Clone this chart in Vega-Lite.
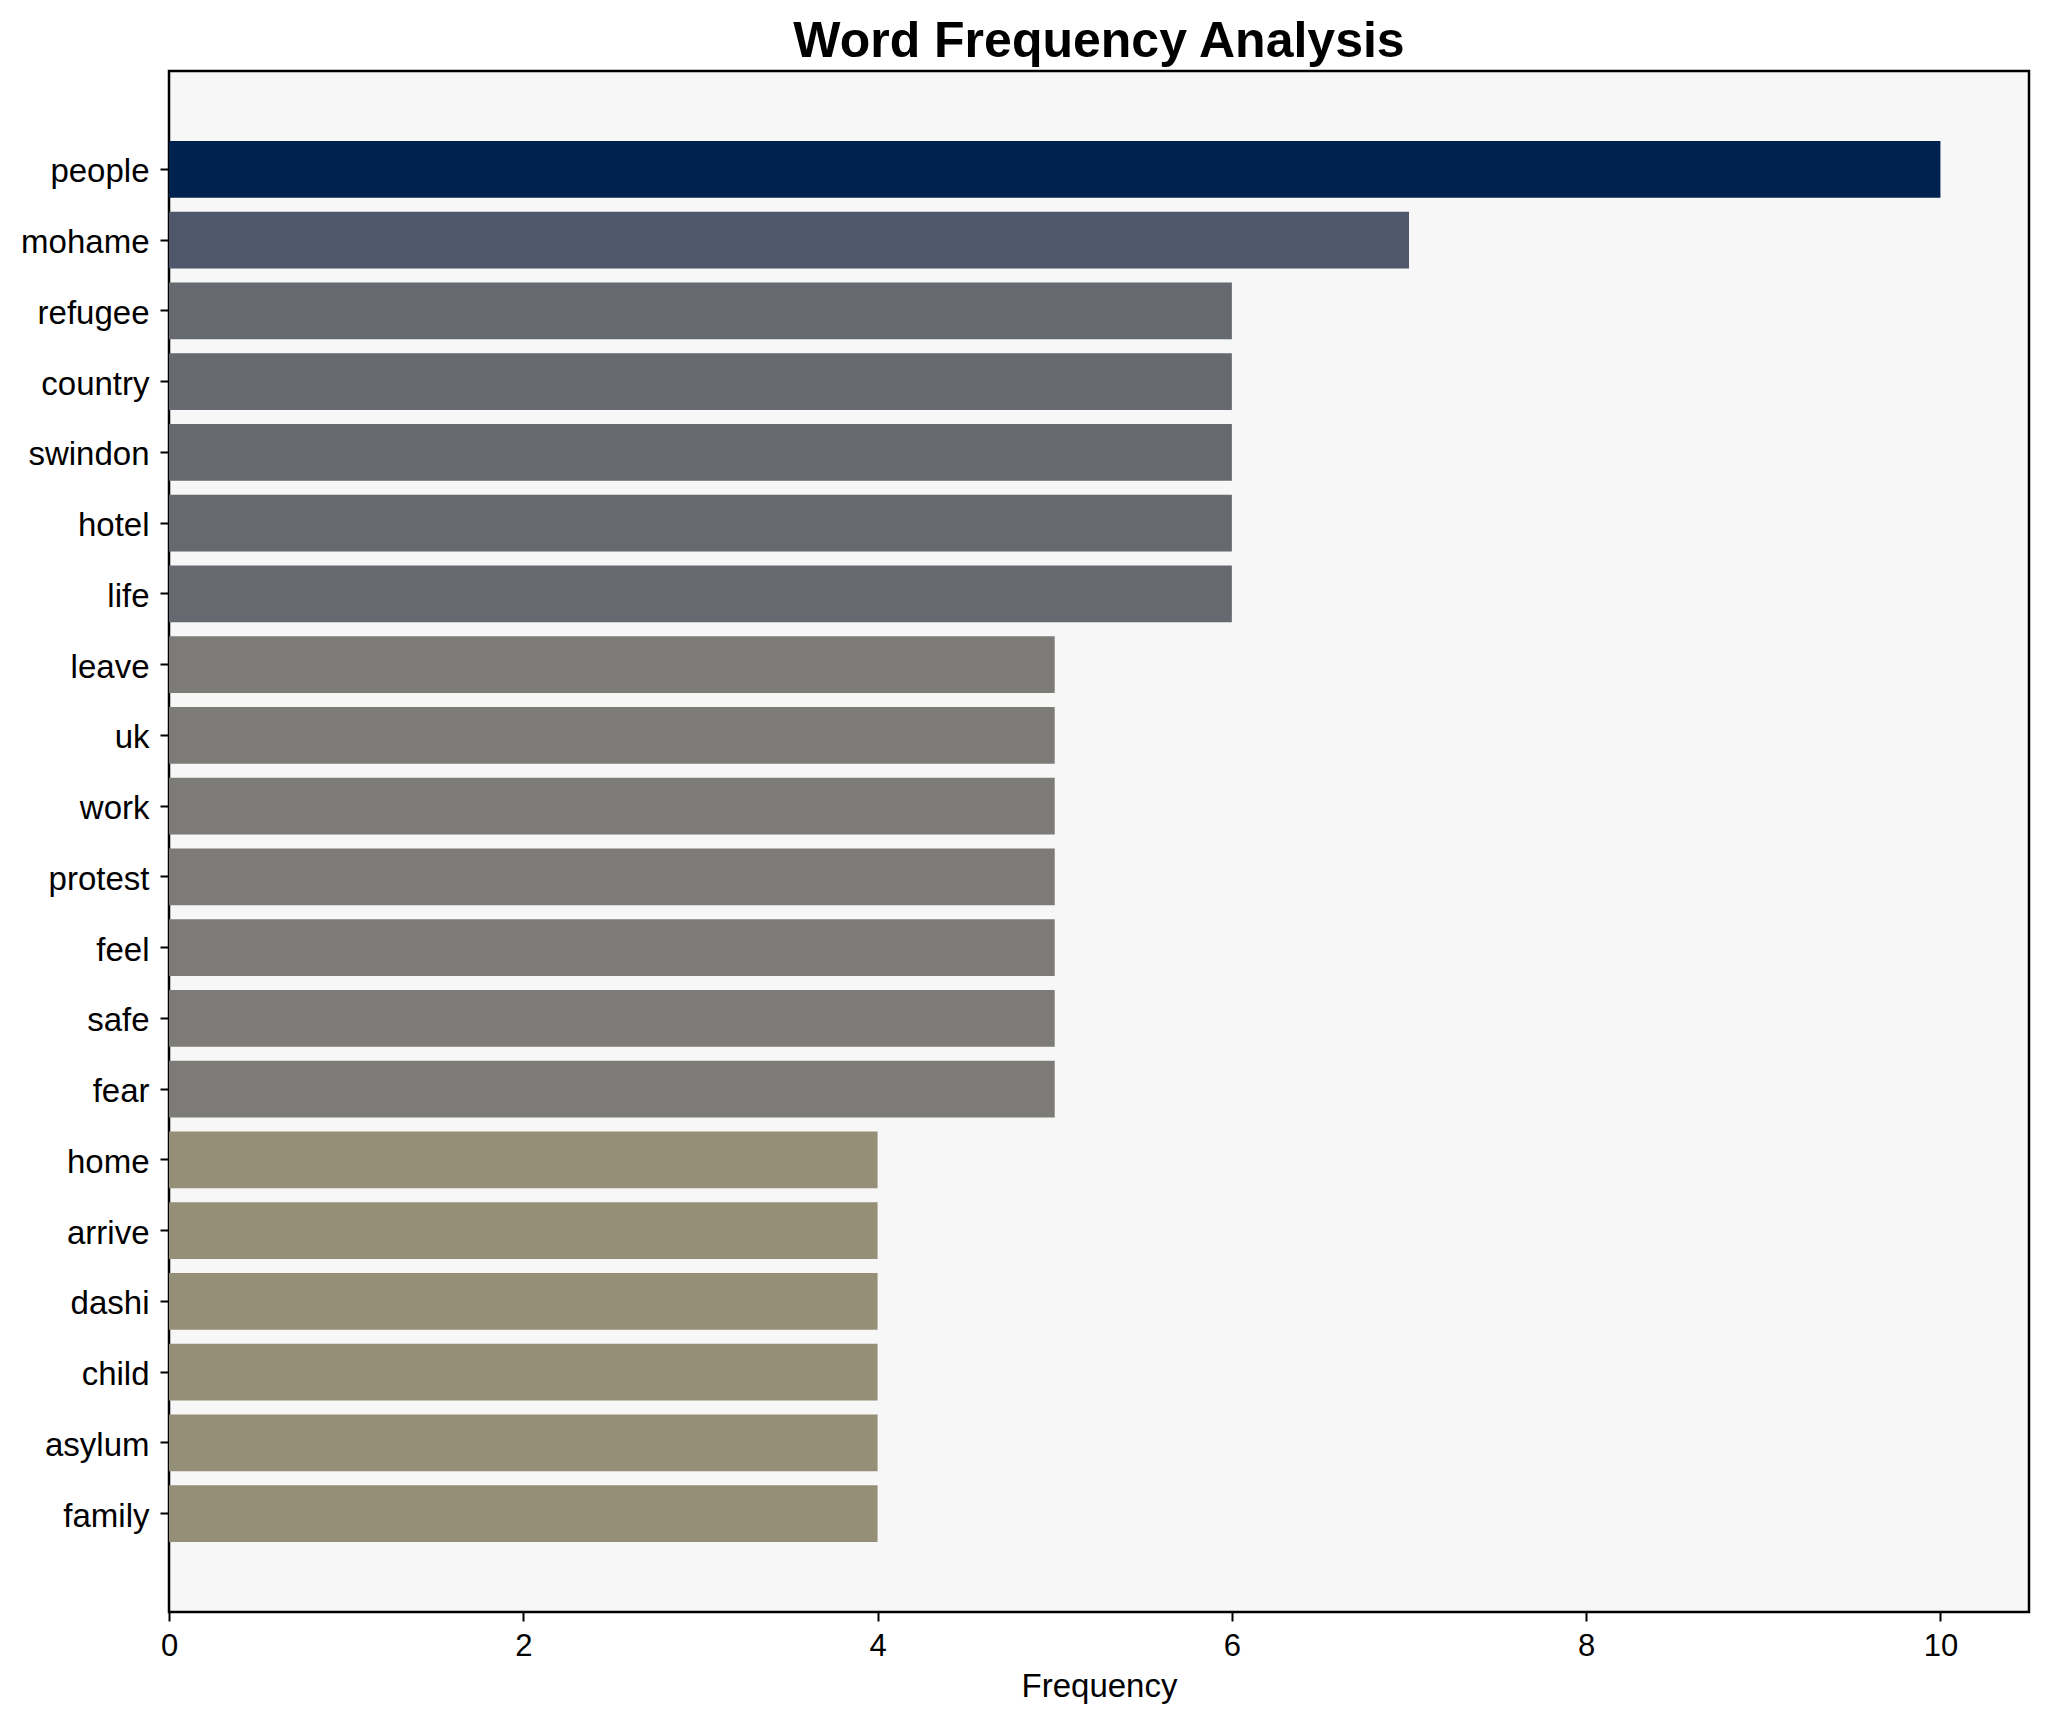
{
  "$schema": "https://vega.github.io/schema/vega-lite/v6.json",
  "autosize": {"type": "none"},
  "padding": {"left": 169, "top": 71, "right": 20, "bottom": 110},
  "width": 1860,
  "height": 1541,
  "background": "white",
  "title": {
    "text": "Word Frequency Analysis",
    "fontSize": 50,
    "font": "Liberation Sans",
    "fontWeight": "bold",
    "color": "black",
    "anchor": "middle",
    "offset": 4
  },
  "data": {
    "values": [
      {"word": "people", "freq": 10},
      {"word": "mohame", "freq": 7},
      {"word": "refugee", "freq": 6},
      {"word": "country", "freq": 6},
      {"word": "swindon", "freq": 6},
      {"word": "hotel", "freq": 6},
      {"word": "life", "freq": 6},
      {"word": "leave", "freq": 5},
      {"word": "uk", "freq": 5},
      {"word": "work", "freq": 5},
      {"word": "protest", "freq": 5},
      {"word": "feel", "freq": 5},
      {"word": "safe", "freq": 5},
      {"word": "fear", "freq": 5},
      {"word": "home", "freq": 4},
      {"word": "arrive", "freq": 4},
      {"word": "dashi", "freq": 4},
      {"word": "child", "freq": 4},
      {"word": "asylum", "freq": 4},
      {"word": "family", "freq": 4}
    ]
  },
  "mark": {"type": "bar"},
  "encoding": {
    "y": {
      "field": "word",
      "type": "nominal",
      "sort": null,
      "scale": {"paddingInner": 0.2, "paddingOuter": 0.99},
      "axis": {
        "title": null,
        "domain": false,
        "grid": false,
        "ticks": true,
        "tickSize": 9,
        "tickWidth": 2,
        "tickColor": "black",
        "labelPadding": 11,
        "labelOffset": 3,
        "labelFontSize": 33,
        "labelFont": "Liberation Sans",
        "labelColor": "black"
      }
    },
    "x": {
      "field": "freq",
      "type": "quantitative",
      "scale": {"domain": [0, 10.5], "nice": false, "zero": true},
      "axis": {
        "title": "Frequency",
        "values": [0, 2, 4, 6, 8, 10],
        "domain": false,
        "grid": false,
        "tickSize": 9,
        "tickWidth": 2,
        "tickColor": "black",
        "labelFlush": false,
        "labelPadding": 10,
        "labelFontSize": 31,
        "labelFont": "Liberation Sans",
        "labelColor": "black",
        "titleFont": "Liberation Sans",
        "titleFontSize": 33,
        "titleFontWeight": "normal",
        "titleColor": "black",
        "titlePadding": 9
      }
    },
    "color": {
      "field": "freq",
      "type": "ordinal",
      "scale": {
        "domain": [4, 5, 6, 7, 10],
        "range": ["#958f77", "#7c7b78", "#666970", "#4f576c", "#00224e"]
      },
      "legend": null
    }
  },
  "config": {
    "view": {"stroke": "black", "strokeWidth": 2.5, "fill": "#f7f7f7"}
  }
}
